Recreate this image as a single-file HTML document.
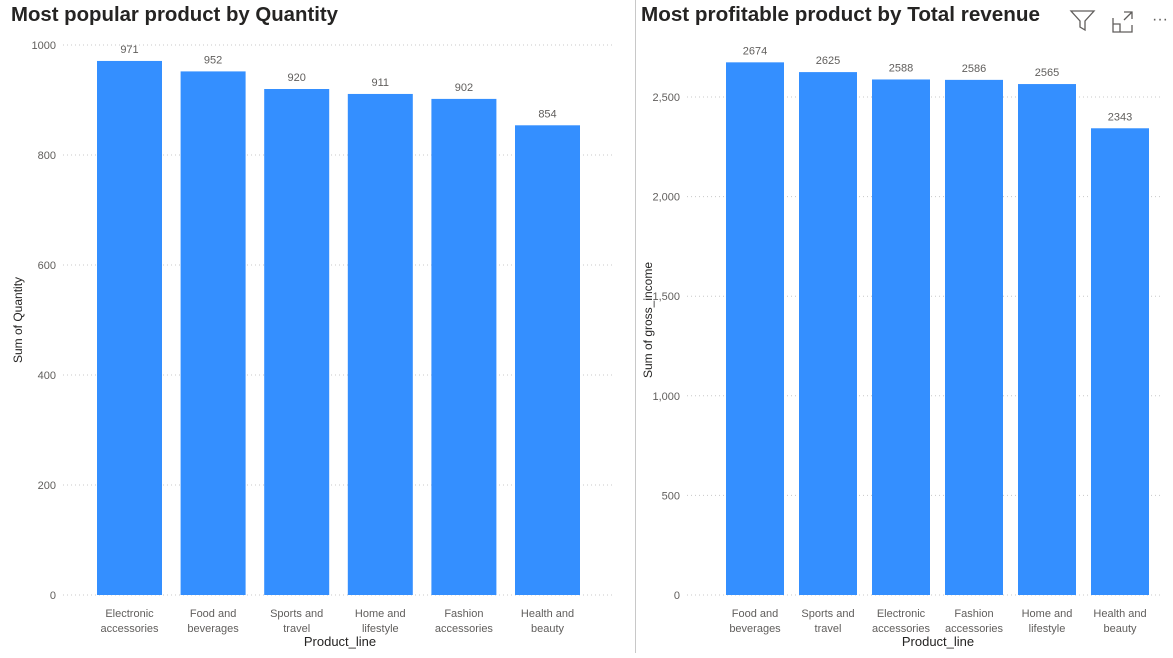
<!DOCTYPE html>
<html><head><meta charset="utf-8"><style>
body{margin:0;width:1173px;height:653px;background:#fff;overflow:hidden;font-family:"Liberation Sans",sans-serif}
svg text{font-family:"Liberation Sans",sans-serif}
</style></head><body>
<svg id="c" width="1173" height="653"></svg>
<script>
const leftCategories=[["Electronic","accessories"],["Food and","beverages"],["Sports and","travel"],["Home and","lifestyle"],["Fashion","accessories"],["Health and","beauty"]];
const leftValues=[971,952,920,911,902,854];
const leftTicks=[0,200,400,600,800,1000];
const rightCategories=[["Food and","beverages"],["Sports and","travel"],["Electronic","accessories"],["Fashion","accessories"],["Home and","lifestyle"],["Health and","beauty"]];
const rightValues=[2674,2625,2588,2586,2565,2343];
const rightTicks=[0,500,1000,1500,2000,2500];
const NS="http://www.w3.org/2000/svg";
const svg=document.getElementById('c');
function mk(tag,attrs,parent,text){const e=document.createElementNS(NS,tag);for(const k in attrs)e.setAttribute(k,attrs[k]);if(text!==undefined)e.textContent=text;(parent||svg).appendChild(e);return e;}
function chart(o){
  const g=mk('g',{});
  
  
  const y=v=>o.y0-v*o.k;
  const x=i=>o.x0+i*o.pitch;
  const t=mk('text',{x:o.titleX,y:21,'font-size':20,'font-weight':'bold',fill:'#252423',textLength:o.titleLen,lengthAdjust:'spacingAndGlyphs'},g,o.title);
  
  
  o.ticks.forEach(v=>{
    const l=mk('line',{x1:o.gx1,x2:o.gx2,y1:y(v),y2:y(v),stroke:'#c8c8c8','stroke-dasharray':'1,3'},g);
    
    
    const tl=mk('text',{x:o.gx1-7,y:y(v)+4,'font-size':11,fill:'#605e5c','text-anchor':'end'},g,o.fmt(v));
    
    
  });
  o.values.forEach((v,i)=>{
    const b=mk('rect',{x:x(i),y:y(v),width:o.bw,height:v*o.k,fill:'#348fff'},g);
    
    
    const dl=mk('text',{x:x(i)+o.bw/2,y:y(v)-8,'font-size':11,fill:'#605e5c','text-anchor':'middle'},g,String(v));
    
    
    o.cats[i].forEach((s,j)=>{
      const cl=mk('text',{x:x(i)+o.bw/2,y:617+j*15,'font-size':11,fill:'#605e5c','text-anchor':'middle'},g,s);
      
      
    });
  });
  const xt=mk('text',{x:o.xtX,y:646,'font-size':13,fill:'#252423','text-anchor':'middle'},g,'Product_line');
  
  
  const yt=mk('text',{x:0,y:0,'font-size':12,fill:'#252423','text-anchor':'middle',transform:`translate(${o.ytX},${o.ytY}) rotate(-90)`},g,o.yTitle);
  
  
}
chart({name:'quantity-chart',title:'Most popular product by Quantity',titleX:11,titleLen:327,fmt:v=>String(v),values:leftValues,cats:leftCategories,ticks:leftTicks,y0:595,k:0.55,x0:97,pitch:83.6,bw:65,gx1:63,gx2:615,xtX:340,ytX:22,ytY:320,yTitle:'Sum of Quantity'});
chart({name:'revenue-chart',title:'Most profitable product by Total revenue',titleX:641,titleLen:399,fmt:v=>v.toLocaleString('en-US'),values:rightValues,cats:rightCategories,ticks:rightTicks,y0:595,k:0.1992,x0:726,pitch:73,bw:58,gx1:687,gx2:1160,xtX:938,ytX:652,ytY:320,yTitle:'Sum of gross_income'});
const d=mk('line',{x1:635.5,x2:635.5,y1:0,y2:653,stroke:'#c8c8c8'});


const f=mk('path',{d:'M1071 11 H1094 L1085 21 V30 L1080 27 V21 Z',fill:'none',stroke:'#605e5c','stroke-width':1.3});


const fo=mk('path',{d:'M1113 18 V32 H1132 V25 M1113 24 H1120 V32 M1124 12 H1132 V19 M1132 12 L1124 20',fill:'none',stroke:'#605e5c','stroke-width':1.3});


const m=mk('text',{x:1152,y:24,'font-size':16,fill:'#605e5c'},svg,'···');


</script>
</body></html>
